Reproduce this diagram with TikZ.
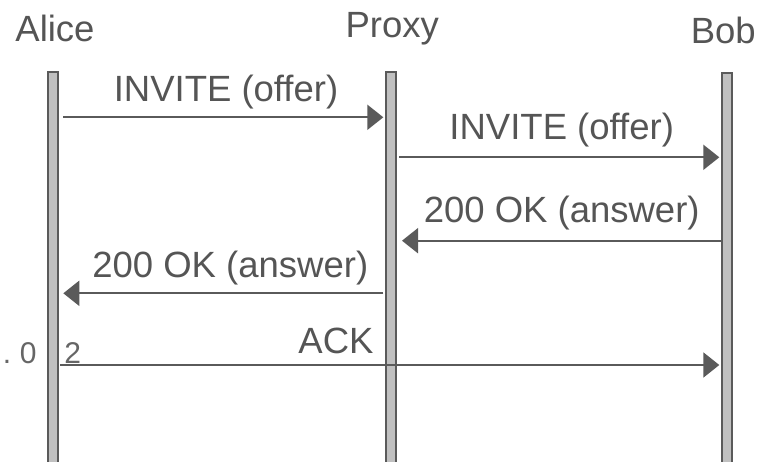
\documentclass[tikz,border=0pt]{standalone}
\usepackage{fontspec}
\setmainfont{Liberation Sans}
\usetikzlibrary{arrows.meta}
\definecolor{txt}{HTML}{555555}
\definecolor{ln}{HTML}{5A5A5A}
\definecolor{barfill}{HTML}{C0C0C0}
\definecolor{small}{HTML}{666666}
\tikzset{
  lbl/.style={anchor=base, inner sep=0pt, text=txt, font=\fontsize{36.5}{40}\selectfont},
  tiny/.style={anchor=base, inner sep=0pt, text=small, font=\fontsize{30}{34}\selectfont},
  bar/.style={draw=ln, fill=barfill, line width=2pt},
  msg/.style={draw=ln, line width=2pt, -{Triangle[length=16pt,width=25pt]}}
}
\begin{document}
\begin{tikzpicture}[x=1pt,y=-1pt]
\clip (0,0) rectangle (758,462);
\fill[white] (0,0) rectangle (758,462);
% headers
\node[lbl] (hA) at (55,41.7) {Alice};
\node[lbl] (hP) at (392.2,37.3) {Proxy};
\node[lbl] (hB) at (723.3,43.3) {Bob};
% stray label
\node[tiny] (d0) at (7,363.3) {.};
\node[tiny] (d1) at (28.3,363.3) {0};
\node[tiny] (d2) at (72.8,363.3) {2};
% lifelines
\draw[bar] (47.5,72.5) rectangle (57.5,475);
\draw[bar] (386.3,72.3) rectangle (396.3,475);
\draw[bar] (722.3,73) rectangle (732.3,475);
% coordinates
\coordinate (a1) at (63.3,117.3);
\coordinate (p1) at (383.3,117.3);
\coordinate (p2) at (399.3,157.3);
\coordinate (b2) at (719.3,157.3);
\coordinate (b3) at (721.7,240.7);
\coordinate (p3) at (402,240.7);
\coordinate (p4) at (383.3,293.3);
\coordinate (a4) at (63.3,293.3);
\coordinate (a5) at (60,365);
\coordinate (b5) at (719.3,365);
% messages
\draw[msg] (a1) -- (p1);
\draw[msg] (p2) -- (b2);
\draw[msg] (b3) -- (p3);
\draw[msg] (p4) -- (a4);
\draw[msg] (a5) -- (b5);
% labels
\node[lbl] (l1) at (226,101.7) {INVITE (offer)};
\node[lbl] (l2) at (561.7,140) {INVITE (offer)};
\node[lbl] (l3) at (561.7,222.7) {200 OK (answer)};
\node[lbl] (l4) at (230.3,277.3) {200 OK (answer)};
\node[lbl] (l5) at (336,353.3) {ACK};
\end{tikzpicture}
\end{document}
